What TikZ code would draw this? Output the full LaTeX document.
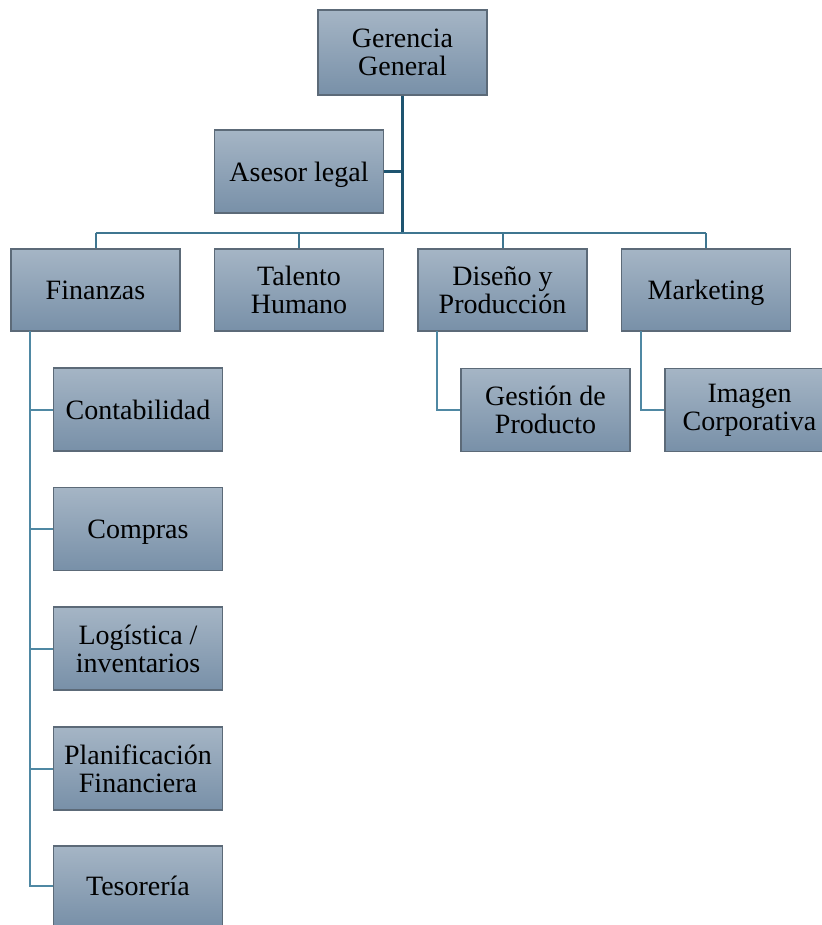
\documentclass[tikz,border=0pt]{standalone}
\usepackage{fontspec}
\setmainfont{Liberation Serif}
\begin{document}
\begin{tikzpicture}[x=0.5pt,y=-0.5pt,
  unit/.style={draw=boxedge, line width=0.7pt, top color=boxtop, bottom color=boxbot,
    minimum width=84.5pt, minimum height=41.5pt, inner sep=1pt, align=center,
    font=\fontsize{14pt}{14pt}\selectfont, text=black},
  % words with descenders: keep the baseline level with their neighbours
  desc/.style={text depth=0pt},
  trunk/.style={draw=linedark, line width=1.5pt},
  branch/.style={draw=linemid, line width=1pt},
  leaf/.style={draw=linelight, line width=1pt}]
\definecolor{boxtop}{HTML}{A5B5C5}
\definecolor{boxbot}{HTML}{7890A8}
\definecolor{boxedge}{HTML}{5C6A78}
\definecolor{linedark}{HTML}{1E5470}
\definecolor{linemid}{HTML}{3F7690}
\definecolor{linelight}{HTML}{4F88A3}
\useasboundingbox (0,0) rectangle (822,925);
\clip (0,0) rectangle (822,925);

% top level
\node[unit, minimum height=42.5pt] (gg) at (402.5,52.5) {Gerencia\\General};
\node[unit, desc] (ase) at (299,171.5) {Asesor legal};

% departments
\node[unit, minimum height=41pt] (fin) at (95.5,290) {Finanzas};
\node[unit, minimum height=41pt] (tal) at (299,290) {Talento\\Humano};
\node[unit, minimum height=41pt] (dis) at (502.5,290) {Diseño y\\Producción};
\node[unit, desc, minimum height=41pt] (mkt) at (706,290) {Marketing};

% finance units
\node[unit] (cont) at (138,409.5) {Contabilidad};
\node[unit, desc] (comp) at (138,529) {Compras};
\node[unit] (logi) at (138,648.5) {Logística /\\inventarios};
\node[unit] (plan) at (138,768.5) {Planificación\\Financiera};
\node[unit, minimum height=40pt] (teso) at (138,886) {Tesorería};

% other sub-units
\node[unit] (gest) at (545.5,410) {Gestión de\\Producto};
\node[unit] (imag) at (749.5,410) {Imagen\\Corporativa};

% main trunk and distribution bar
\coordinate (bar) at (402.5,233);
\draw[trunk] (gg.south) -- (bar);
\draw[trunk] (ase.east) -- (ase.east -| gg.south);
\draw[branch] (fin.north |- bar) -- (mkt.north |- bar);
\foreach \d in {fin,tal,dis,mkt}
  \draw[branch] (\d.north |- bar) -- (\d.north);

% sub-unit connectors
\coordinate (fv) at (30,331);
\coordinate (dv) at (437,331);
\coordinate (mv) at (641,331);
\foreach \c in {cont,comp,logi,plan,teso}
  \draw[leaf] (fv) |- (\c.west);
\draw[leaf] (dv) |- (gest.west);
\draw[leaf] (mv) |- (imag.west);
\end{tikzpicture}
\end{document}
